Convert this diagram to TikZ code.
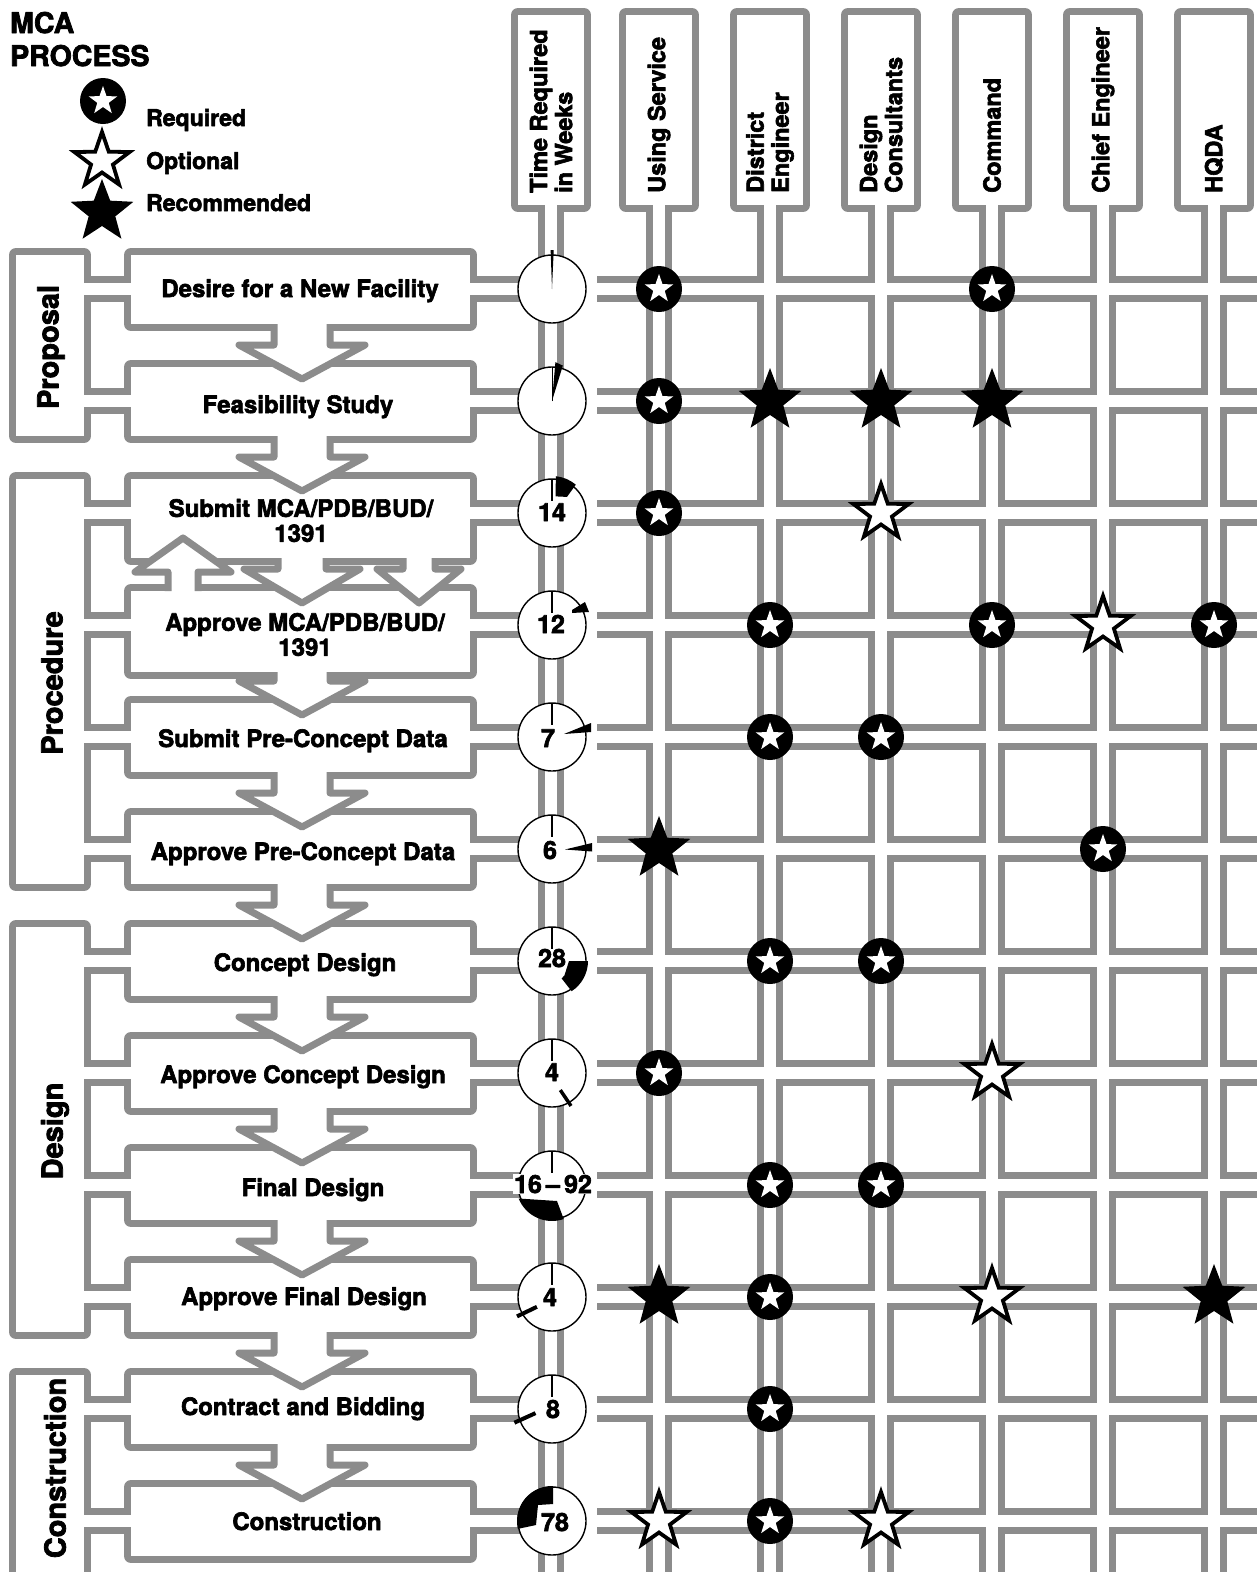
\documentclass[tikz,border=0pt]{standalone}
\usepackage{fontspec}
\setmainfont{TeX Gyre Heros}[BoldFeatures={FakeBold=2.6}]
\usetikzlibrary{calc}
\definecolor{band}{gray}{0.55}

\tikzset{
  pics/starpoly/.style 2 args={code={%
    \path[pic actions] (90:#1) -- (126:#2) -- (162:#1) -- (198:#2) -- (234:#1)
      -- (270:#2) -- (306:#1) -- (342:#2) -- (18:#1) -- (54:#2) -- cycle;}},
  pics/reqmark/.style={code={%
    \fill[black] (0,0) circle (23);
    \pic[fill=white,yscale=-1] {starpoly={15}{6}};}},
  pics/optmark/.style={code={%
    \pic[draw=black,fill=white,line width=3.8pt,line join=miter,yscale=-1] {starpoly={29}{11.5}};}},
  pics/recmark/.style={code={%
    \pic[fill=black,yscale=-1] {starpoly={33}{14}};}},
}

% outlines of all boxes (step boxes, phase boxes, column headers)
\newcommand\boxshapes[1]{%
  \foreach \n in {s1,s2,s3,s4,s5,s6,s7,s8,s9,s10,s11,s12,ph1,ph2,ph3,ph4,h0,h1,h2,h3,h4,h5,h6}
    {\path[#1] (\n.north west) rectangle (\n.south east);}%
}
% centre lines of all double-line channels
\newcommand\roadshapes[1]{%
  \foreach \i/\p in {1/1,2/1,3/2,4/2,5/2,6/2,7/3,8/3,9/3,10/3,11/4,12/4}
    {\path[#1] ($(ph\p.east |- r\i)+(-14,0)$) -- ($(s\i.west |- r\i)+(10,0)$);}%
  \foreach \i in {1,...,12}
    {\path[#1] ($(s\i.east |- r\i)+(-10,0)$) -- (c\i);}%
  \foreach \k in {0,...,6}
    {\path[#1] (h\k.center) -- ++(0,1500);}%
  \foreach \i in {1,...,12}
    {\path[#1] (r\i) -- ++(680,0);}%
}
% block arrow pointing down from box #1 into box #2
\newcommand\downblock[5]{%
  \fill[white] let \p1=(#1.south), \p2=(#2.north) in
    (#3pt-#4pt,\y1+3pt) -- (#3pt-#4pt,\y2+22pt) -- (#3pt-#5pt,\y2+22pt) -- (#3pt,\y2-12pt)
    -- (#3pt+#5pt,\y2+22pt) -- (#3pt+#4pt,\y2+22pt) -- (#3pt+#4pt,\y1+3pt) -- cycle;
  \draw[arrowedge] let \p1=(#1.south), \p2=(#2.north) in
    (#3pt-#4pt,\y1) -- (#3pt-#4pt,\y2+22pt) -- (#3pt-#5pt,\y2+22pt) -- (#3pt,\y2-12pt)
    -- (#3pt+#5pt,\y2+22pt) -- (#3pt+#4pt,\y2+22pt) -- (#3pt+#4pt,\y1);
}
% block arrow pointing up from box #1 into box #2
\newcommand\upblock[5]{%
  \fill[white] let \p1=(#1.north), \p2=(#2.south) in
    (#3pt-#4pt,\y1-3pt) -- (#3pt-#4pt,\y2-14pt) -- (#3pt-#5pt,\y2-14pt) -- (#3pt,\y2+20pt)
    -- (#3pt+#5pt,\y2-14pt) -- (#3pt+#4pt,\y2-14pt) -- (#3pt+#4pt,\y1-3pt) -- cycle;
  \draw[arrowedge] let \p1=(#1.north), \p2=(#2.south) in
    (#3pt-#4pt,\y1) -- (#3pt-#4pt,\y2-14pt) -- (#3pt-#5pt,\y2-14pt) -- (#3pt,\y2+20pt)
    -- (#3pt+#5pt,\y2-14pt) -- (#3pt+#4pt,\y2-14pt) -- (#3pt+#4pt,\y1);
}

\begin{document}
\begin{tikzpicture}[x=1pt,y=-1pt,line join=round,
  hidden/.style={rectangle,inner sep=0pt,outer sep=0pt},
  arrowedge/.style={draw=band,line width=7pt},
  steptext/.style={font=\bfseries\fontsize{24}{25}\selectfont,inner sep=0pt,align=center},
  headtext/.style={font=\bfseries\fontsize{23.5}{25}\selectfont,inner sep=0pt,rotate=90,anchor=west,align=left},
  phasetext/.style={font=\bfseries\fontsize{29}{31}\selectfont,inner sep=0pt,rotate=90},
  legtext/.style={font=\bfseries\fontsize{23}{25}\selectfont,inner sep=0pt,anchor=base west},
  titletext/.style={font=\bfseries\fontsize{28.5}{32}\selectfont,inner sep=0pt,anchor=base west},
  num/.style={font=\bfseries\fontsize{25}{26}\selectfont,inner sep=0pt,anchor=base},
  clockrim/.style={draw=black,fill=white,line width=1.4pt},
  hand/.style={line width=1.3pt}]

\useasboundingbox (0,0) rectangle (1257,1572);
\clip (0,0) rectangle (1257,1572);

% ---------- reference points ----------
\foreach \i/\y in {1/289,2/401,3/513,4/625,5/737,6/849,7/961,8/1073,9/1185,10/1297,11/1409,12/1521}{
  \coordinate (r\i) at (597,\y);
  \coordinate (c\i) at (552,\y);
}
\foreach \i/\y in {1/289.5,2/401.5,5/737.5,6/849.5,7/961.5,8/1073.5,9/1185.5,10/1297.5,11/1409.5,12/1521.5}
  {\path node[hidden,minimum width=339pt,minimum height=69pt] (s\i) at (300.5,\y) {};}
\path node[hidden,minimum width=339pt,minimum height=79pt] (s3) at (300.5,518.5) {};
\path node[hidden,minimum width=339pt,minimum height=81pt] (s4) at (300.5,631.5) {};
\path node[hidden,minimum width=68pt,minimum height=181pt] (ph1) at (50,345.5) {};
\path node[hidden,minimum width=68pt,minimum height=405pt] (ph2) at (50,681.5) {};
\path node[hidden,minimum width=68pt,minimum height=405pt] (ph3) at (50,1129.5) {};
\path node[hidden,minimum width=68pt,minimum height=230pt] (ph4) at (50,1490) {};
\foreach \k/\x in {0/551,1/659,2/770,3/881,4/992,5/1103,6/1214}
  {\path node[hidden,minimum width=66pt,minimum height=190pt] (h\k) at (\x,110) {};}

% ---------- grey double-line structure ----------
\boxshapes{draw=band,line width=14pt}
\roadshapes{draw=band,line width=26pt}
\boxshapes{fill=white}
\roadshapes{draw=white,line width=12pt}

% ---------- flow arrows ----------
\foreach \a/\b in {1/2,2/3,4/5,5/6,6/7,7/8,8/9,9/10,10/11,11/12}
  {\downblock{s\a}{s\b}{302}{28}{63}}
\downblock{s3}{s4}{302}{24}{58}
\downblock{s3}{s4}{419}{16}{42}
\upblock{s4}{s3}{183}{15}{48}

% ---------- clocks ----------
\foreach \i in {1,...,12} {\draw[clockrim] (c\i) circle (34);}
\foreach \i in {3,...,11} {\draw[hand] ($(c\i)+(0,-34)$) -- ($(c\i)+(0,-12)$);}
\begin{scope}[shift={(c1)},yscale=-1]
  \fill (0,0) -- (92:39) -- (87.5:39) -- cycle;
\end{scope}
\begin{scope}[shift={(c2)},yscale=-1]
  \draw[line width=0.8pt] (0,0) -- (90:34);
  \fill (0,0) -- (85:39) -- (73:37) -- cycle;
\end{scope}
\begin{scope}[shift={(c3)},yscale=-1]
  \fill (84:37) arc[start angle=84,end angle=50,radius=37] -- (47:22) -- (78:17) -- cycle;
\end{scope}
\begin{scope}[shift={(c4)},yscale=-1]
  \fill (20,15) -- (33,23) -- (37,13) -- (20,12) -- cycle;
\end{scope}
\begin{scope}[shift={(c5)},yscale=-1]
  \fill (12,3) -- (39,14) -- (39,5) -- cycle;
\end{scope}
\begin{scope}[shift={(c6)},yscale=-1]
  \fill (13,-0.5) -- (40,6) -- (40,-2.5) -- cycle;
\end{scope}
\begin{scope}[shift={(c7)},yscale=-1]
  \fill (17,0) -- (0:36) arc[start angle=0,end angle=-57,radius=36] -- (-61:20) -- (-49:19) -- cycle;
\end{scope}
\begin{scope}[shift={(c8)},yscale=-1]
  \draw[line width=3.5pt] (-64:19) -- (-60:38);
\end{scope}
\begin{scope}[shift={(c9)},yscale=-1]
  \fill (5,-16) -- (-71:36) arc[start angle=-71,end angle=-158,radius=36] -- cycle;
\end{scope}
\begin{scope}[shift={(c10)},yscale=-1]
  \draw[line width=4pt] (-147:18) -- (-151:40);
\end{scope}
\begin{scope}[shift={(c11)},yscale=-1]
  \draw[line width=4pt] (-166:17) -- (-160:40);
\end{scope}
\begin{scope}[shift={(c12)},yscale=-1]
  \fill (1,17) -- (88:35) arc[start angle=88,end angle=193,radius=35] -- (-16,-4) -- (-14,16) -- cycle;
\end{scope}

\node[num] (n3) at ($(c3)+(0,8)$) {14};
\node[num] (n4) at ($(c4)+(-1,8)$) {12};
\node[num] (n5) at ($(c5)+(-4,10)$) {7};
\node[num] (n6) at ($(c6)+(-2,10)$) {6};
\node[num] (n7) at ($(c7)+(0,6)$) {28};
\node[num] (n8) at ($(c8)+(0,8)$) {4};
\node[num,fill=white,inner sep=1pt] (n9) at ($(c9)+(1,8)$) {16\,--\,92};
\node[num] (n10) at ($(c10)+(-2,9)$) {4};
\node[num] (n11) at ($(c11)+(1,9)$) {8};
\node[num] (n12) at ($(c12)+(3,10)$) {78};

% ---------- responsibility marks ----------
\foreach \k/\i in {1/1,4/1,1/2,1/3,2/4,4/4,6/4,2/5,3/5,5/6,2/7,3/7,1/8,2/9,3/9,2/10,2/11,2/12}
  {\pic at (h\k.center |- r\i) {reqmark};}
\foreach \k/\i in {3/3,5/4,4/8,4/10,1/12,3/12}
  {\pic at (h\k.center |- r\i) {optmark};}
\foreach \k/\i in {2/2,3/2,4/2,1/6,1/10,6/10}
  {\pic at (h\k.center |- r\i) {recmark};}

% ---------- title and legend ----------
\node[titletext] (title1) at (10,33) {MCA};
\node[titletext] (title2) at (10,66) {PROCESS};
\pic at (103,101) {reqmark};
\pic at (102,161) {optmark};
\pic at (102,212) {recmark};
\node[legtext] (leg1) at (146,126) {Required};
\node[legtext] (leg2) at (146,169) {Optional};
\node[legtext] (leg3) at (146,211) {Recommended};

% ---------- column headers ----------
\node[headtext] (ht0) at (551,193) {Time Required\\in Weeks};
\node[headtext] (ht1) at (659,193) {Using Service};
\node[headtext] (ht2) at (770,193) {District\\Engineer};
\node[headtext] (ht3) at (881,193) {Design\\Consultants};
\node[headtext] (ht4) at (992,193) {Command};
\node[headtext] (ht5) at (1103,193) {Chief Engineer};
\node[headtext] (ht6) at (1214,193) {HQDA};

% ---------- phases ----------
\node[phasetext] (pt1) at (51,347) {Proposal};
\node[phasetext] (pt2) at (52,683) {Procedure};
\node[phasetext] (pt3) at (55,1131) {Design};
\node[phasetext] (pt4) at (55,1468) {Construction};

% ---------- steps ----------
\node[steptext,anchor=base] (t1) at (300,297) {Desire for a New Facility};
\node[steptext,anchor=base] (t2) at (298,413) {Feasibility Study};
\node[steptext] (t3) at (301,520.5) {Submit MCA/PDB/BUD/\\1391};
\node[steptext] (t4) at (305,634.5) {Approve MCA/PDB/BUD/\\1391};
\node[steptext,anchor=base] (t5) at (303,747) {Submit Pre-Concept Data};
\node[steptext,anchor=base] (t6) at (303,860) {Approve Pre-Concept Data};
\node[steptext,anchor=base] (t7) at (305,971) {Concept Design};
\node[steptext,anchor=base] (t8) at (303,1083) {Approve Concept Design};
\node[steptext,anchor=base] (t9) at (313,1196) {Final Design};
\node[steptext,anchor=base] (t10) at (304,1305) {Approve Final Design};
\node[steptext,anchor=base] (t11) at (303,1415) {Contract and Bidding};
\node[steptext,anchor=base] (t12) at (307,1530) {Construction};
\end{tikzpicture}
\end{document}
